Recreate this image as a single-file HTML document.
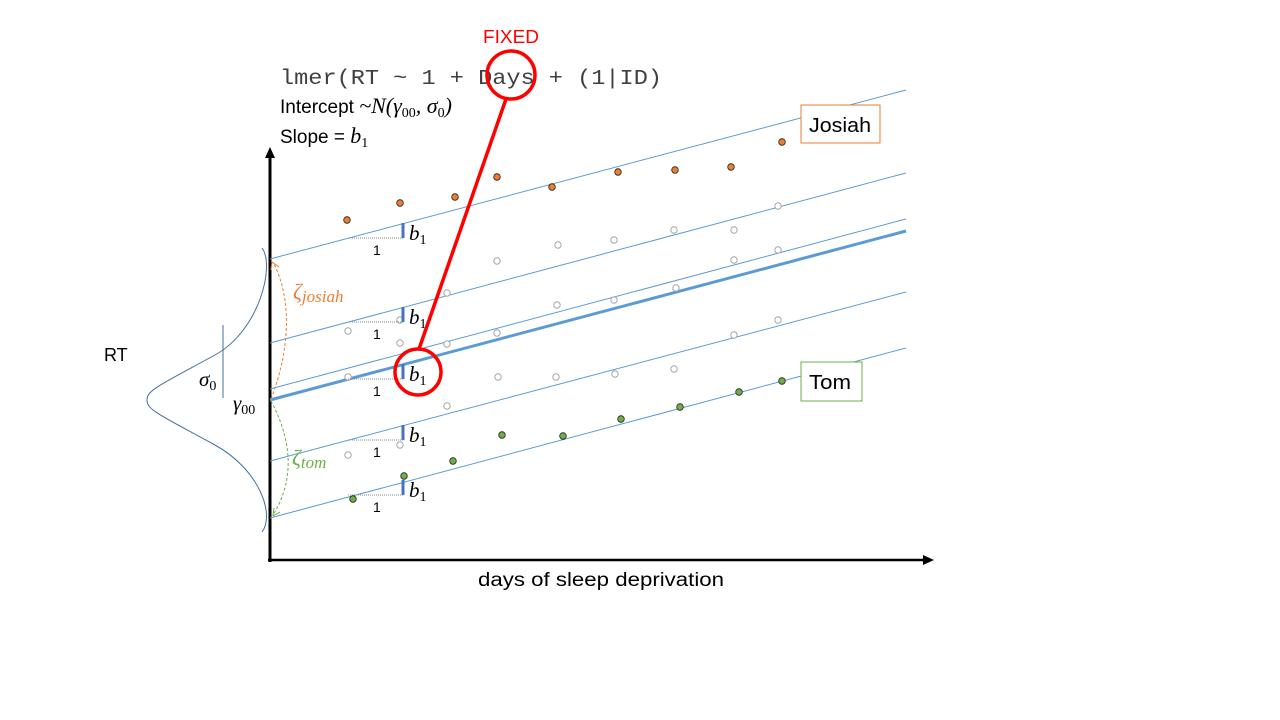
<!DOCTYPE html>
<html><head><meta charset="utf-8"><style>
html,body{margin:0;padding:0;background:#fff;width:1280px;height:720px;overflow:hidden}
svg text{font-family:"Liberation Sans",sans-serif}
.m{font-family:"Liberation Serif",serif;font-style:italic}
</style></head><body>
<svg width="1280" height="720" viewBox="0 0 1280 720" xmlns="http://www.w3.org/2000/svg">
<!-- axes -->
<line x1="270" y1="562" x2="270" y2="156" stroke="#000" stroke-width="3"/>
<path d="M270,147 L265,158 L275,158 z" fill="#000"/>
<line x1="268" y1="560" x2="925" y2="560" stroke="#000" stroke-width="2.5"/>
<path d="M934,560 L923,555 L923,565 z" fill="#000"/>
<!-- lines -->
<g stroke="#5b9bd5" stroke-width="1">
<line x1="270" y1="259" x2="906" y2="90"/>
<line x1="270" y1="343" x2="906" y2="173"/>
<line x1="270" y1="389" x2="906" y2="219"/>
<line x1="270" y1="461" x2="906" y2="292"/>
<line x1="270" y1="518" x2="906" y2="348"/>
</g>
<line x1="270" y1="400" x2="906" y2="231" stroke="#5b9bd5" stroke-width="3"/>
<!-- grey points -->
<g fill="#fff" stroke="#a6a6a6" stroke-width="1">
<circle cx="778" cy="206" r="3.2"/><circle cx="734" cy="230" r="3.2"/><circle cx="674" cy="230" r="3.2"/><circle cx="614" cy="240" r="3.2"/><circle cx="558" cy="245" r="3.2"/><circle cx="497" cy="261" r="3.2"/><circle cx="447" cy="293" r="3.2"/><circle cx="400" cy="320" r="3.2"/><circle cx="348" cy="331" r="3.2"/>
<circle cx="497" cy="333" r="3.2"/><circle cx="557" cy="305" r="3.2"/><circle cx="614" cy="300" r="3.2"/><circle cx="676" cy="288" r="3.2"/><circle cx="734" cy="260" r="3.2"/><circle cx="778" cy="250" r="3.2"/><circle cx="400" cy="343" r="3.2"/><circle cx="348" cy="377" r="3.2"/><circle cx="447" cy="344" r="3.2"/>
<circle cx="498" cy="377" r="3.2"/><circle cx="556" cy="377" r="3.2"/><circle cx="615" cy="374" r="3.2"/><circle cx="674" cy="369" r="3.2"/><circle cx="734" cy="335" r="3.2"/><circle cx="778" cy="320" r="3.2"/><circle cx="447" cy="406" r="3.2"/><circle cx="400" cy="445" r="3.2"/><circle cx="348" cy="455" r="3.2"/>
</g>
<g fill="#ed7d31" stroke="#222" stroke-width="0.8">
<circle cx="347" cy="220" r="3.3"/><circle cx="400" cy="203" r="3.3"/><circle cx="455" cy="197" r="3.3"/><circle cx="497" cy="177" r="3.3"/><circle cx="552" cy="187" r="3.3"/><circle cx="618" cy="172" r="3.3"/><circle cx="675" cy="170" r="3.3"/><circle cx="731" cy="167" r="3.3"/><circle cx="782" cy="142" r="3.3"/>
</g>
<g fill="#70ad47" stroke="#222" stroke-width="0.8">
<circle cx="353" cy="499" r="3.3"/><circle cx="404" cy="476" r="3.3"/><circle cx="453" cy="461" r="3.3"/><circle cx="502" cy="435" r="3.3"/><circle cx="563" cy="436" r="3.3"/><circle cx="621" cy="419" r="3.3"/><circle cx="680" cy="407" r="3.3"/><circle cx="739" cy="392" r="3.3"/><circle cx="782" cy="381" r="3.3"/>
</g>
<!-- slope triangles -->
<g>
<g><line x1="348" y1="238" x2="403" y2="238" stroke="#888" stroke-dasharray="1,1"/><line x1="403" y1="223" x2="403" y2="238" stroke="#4472c4" stroke-width="3"/><text x="373" y="255" font-size="14">1</text><text x="409" y="240" class="m" font-size="21">b<tspan font-size="14" dy="4" font-style="normal">1</tspan></text></g>
<g transform="translate(0,84)"><line x1="348" y1="238" x2="403" y2="238" stroke="#888" stroke-dasharray="1,1"/><line x1="403" y1="223" x2="403" y2="238" stroke="#4472c4" stroke-width="3"/><text x="373" y="255" font-size="14">1</text><text x="409" y="240" class="m" font-size="21">b<tspan font-size="14" dy="4" font-style="normal">1</tspan></text></g>
<g transform="translate(0,141)"><line x1="348" y1="238" x2="403" y2="238" stroke="#888" stroke-dasharray="1,1"/><line x1="403" y1="223" x2="403" y2="238" stroke="#4472c4" stroke-width="3"/><text x="373" y="255" font-size="14">1</text><text x="409" y="240" class="m" font-size="21">b<tspan font-size="14" dy="4" font-style="normal">1</tspan></text></g>
<g transform="translate(0,202)"><line x1="348" y1="238" x2="403" y2="238" stroke="#888" stroke-dasharray="1,1"/><line x1="403" y1="223" x2="403" y2="238" stroke="#4472c4" stroke-width="3"/><text x="373" y="255" font-size="14">1</text><text x="409" y="240" class="m" font-size="21">b<tspan font-size="14" dy="4" font-style="normal">1</tspan></text></g>
<g transform="translate(0,257)"><line x1="348" y1="238" x2="403" y2="238" stroke="#888" stroke-dasharray="1,1"/><line x1="403" y1="223" x2="403" y2="238" stroke="#4472c4" stroke-width="3"/><text x="373" y="255" font-size="14">1</text><text x="409" y="240" class="m" font-size="21">b<tspan font-size="14" dy="4" font-style="normal">1</tspan></text></g>
</g>
<!-- bell curve -->
<path d="M262,248 C275,265 260,330 215,355 C160,385 147,390 147,400 C147,410 160,415 215,445 C260,470 275,515 262,532" fill="none" stroke="#41719c" stroke-width="1"/>
<line x1="223" y1="325" x2="223" y2="398" stroke="#41719c" stroke-width="1"/>
<text x="199" y="386" class="m" font-size="21">σ<tspan font-size="14" dy="4" font-style="normal">0</tspan></text>
<text x="233" y="410" class="m" font-size="21">γ<tspan font-size="14" dy="4" font-style="normal">00</tspan></text>
<!-- zeta arrows -->
<path d="M271,399 C290,350 292,300 274,264" fill="none" stroke="#ed7d31" stroke-dasharray="3,2"/>
<path d="M272,262 l-1,8 M272,262 l7,5" stroke="#ed7d31" fill="none"/>
<path d="M271,401 C292,440 295,480 273,515" fill="none" stroke="#70ad47" stroke-dasharray="3,2"/>
<path d="M273,516 l1,-8 M273,516 l7,-4" stroke="#70ad47" fill="none"/>
<text x="293" y="299" class="m" font-size="22" fill="#ed7d31">ζ<tspan font-size="17" dy="3">josiah</tspan></text>
<text x="292" y="465" class="m" font-size="22" fill="#70ad47">ζ<tspan font-size="17" dy="3">tom</tspan></text>
<!-- labels boxes -->
<rect x="801" y="105" width="79" height="38" fill="#fff" stroke="#ed7d31"/>
<text x="809" y="132" font-size="20" textLength="62" lengthAdjust="spacingAndGlyphs">Josiah</text>
<rect x="801" y="362" width="61" height="39" fill="#fff" stroke="#70ad47"/>
<text x="809" y="389" font-size="20" textLength="42" lengthAdjust="spacingAndGlyphs">Tom</text>
<!-- text -->
<text x="280" y="84" font-size="21" fill="#404040" style="font-family:'Liberation Mono',monospace" textLength="382" lengthAdjust="spacingAndGlyphs">lmer(RT ~ 1 + Days + (1|ID)</text>
<text x="280" y="113" font-size="19">Intercept <tspan class="m" font-size="22"> ~N(γ<tspan font-size="14" dy="4" font-style="normal">00</tspan><tspan dy="-4">, σ</tspan><tspan font-size="14" dy="4" font-style="normal">0</tspan><tspan dy="-4">)</tspan></tspan></text>
<text x="280" y="143" font-size="19">Slope = <tspan class="m" font-size="22">b<tspan font-size="14" dy="4" font-style="normal">1</tspan></tspan></text>
<text x="483" y="43" font-size="18" fill="#ff0000" textLength="56" lengthAdjust="spacingAndGlyphs">FIXED</text>
<text x="104" y="361" font-size="18">RT</text>
<text x="478" y="586" font-size="19" textLength="246" lengthAdjust="spacingAndGlyphs">days of sleep deprivation</text>
<!-- red -->
<circle cx="511" cy="75" r="24" fill="none" stroke="#ff0000" stroke-width="3.5"/>
<circle cx="418" cy="372" r="23" fill="none" stroke="#ff0000" stroke-width="3.5"/>
<line x1="506" y1="99" x2="419" y2="349" stroke="#ff0000" stroke-width="3.5"/>
</svg>
</body></html>
